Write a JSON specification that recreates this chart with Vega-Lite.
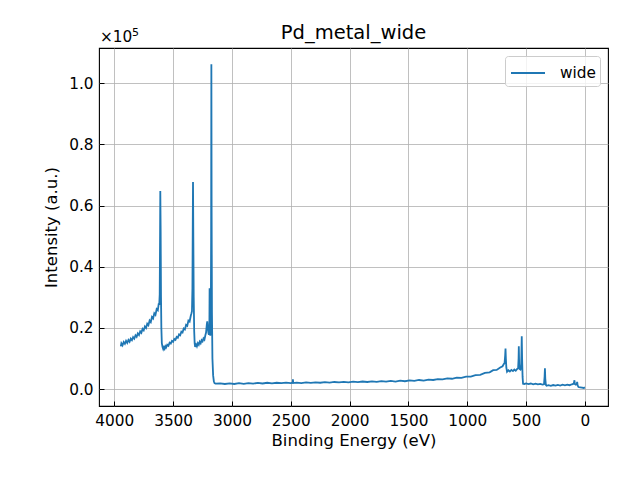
{
  "$schema": "https://vega.github.io/schema/vega-lite/v6.json",
  "width": 509,
  "height": 358,
  "autosize": "none",
  "padding": {"left": 99, "top": 48, "right": 32, "bottom": 74},
  "background": "white",
  "config": {
    "font": "DejaVu Sans",
    "view": {"stroke": "black", "strokeWidth": 1.1},
    "axis": {
      "domain": false,
      "grid": true,
      "gridColor": "#b0b0b0",
      "gridWidth": 0.8,
      "tickColor": "black",
      "tickSize": -5,
      "tickWidth": 1,
      "labelFont": "DejaVu Sans",
      "labelFontSize": 15.3,
      "labelColor": "black",
      "labelPadding": 11,
      "titleFont": "DejaVu Sans",
      "titleFontSize": 16.5,
      "titleFontWeight": "normal",
      "titleColor": "black"
    },
    "legend": {
      "orient": "top-right",
      "offset": 8,
      "strokeColor": "#cccccc",
      "cornerRadius": 3,
      "padding": 4,
      "fillColor": "rgba(255,255,255,0.8)",
      "symbolType": "M-1.417,0H1.417",
      "symbolSize": 576,
      "symbolOffset": 6,
      "symbolStrokeWidth": 1.8,
      "labelFont": "DejaVu Sans",
      "labelFontSize": 15.3,
      "labelColor": "black",
      "labelOffset": 19
    },
    "title": {"font": "DejaVu Sans", "fontSize": 19.5, "fontWeight": "normal", "color": "black", "offset": -16}
  },
  "title": "Pd_metal_wide",
  "data": {
    "values": [
      {"e": 3945, "i": 0.140}, {"e": 3940, "i": 0.150}, {"e": 3930, "i": 0.143}, {"e": 3920, "i": 0.154},
      {"e": 3910, "i": 0.148}, {"e": 3900, "i": 0.158}, {"e": 3890, "i": 0.151}, {"e": 3880, "i": 0.161},
      {"e": 3870, "i": 0.155}, {"e": 3860, "i": 0.165}, {"e": 3850, "i": 0.160}, {"e": 3840, "i": 0.170},
      {"e": 3830, "i": 0.165}, {"e": 3820, "i": 0.176}, {"e": 3810, "i": 0.171}, {"e": 3800, "i": 0.182},
      {"e": 3790, "i": 0.177}, {"e": 3780, "i": 0.189}, {"e": 3770, "i": 0.184}, {"e": 3760, "i": 0.197},
      {"e": 3750, "i": 0.192}, {"e": 3740, "i": 0.205}, {"e": 3730, "i": 0.200}, {"e": 3720, "i": 0.214},
      {"e": 3710, "i": 0.209}, {"e": 3700, "i": 0.224}, {"e": 3690, "i": 0.219}, {"e": 3680, "i": 0.236},
      {"e": 3670, "i": 0.231}, {"e": 3660, "i": 0.248}, {"e": 3650, "i": 0.243}, {"e": 3640, "i": 0.262},
      {"e": 3630, "i": 0.258}, {"e": 3622, "i": 0.280}, {"e": 3618, "i": 0.275}, {"e": 3614, "i": 0.310},
      {"e": 3611, "i": 0.500}, {"e": 3609, "i": 0.648}, {"e": 3606, "i": 0.520}, {"e": 3603, "i": 0.300},
      {"e": 3600, "i": 0.200}, {"e": 3596, "i": 0.150}, {"e": 3590, "i": 0.138}, {"e": 3584, "i": 0.131},
      {"e": 3578, "i": 0.137}, {"e": 3572, "i": 0.132}, {"e": 3566, "i": 0.140}, {"e": 3560, "i": 0.136},
      {"e": 3550, "i": 0.145}, {"e": 3540, "i": 0.142}, {"e": 3530, "i": 0.152}, {"e": 3520, "i": 0.149},
      {"e": 3510, "i": 0.158}, {"e": 3500, "i": 0.155}, {"e": 3490, "i": 0.164}, {"e": 3480, "i": 0.161},
      {"e": 3470, "i": 0.171}, {"e": 3460, "i": 0.168}, {"e": 3450, "i": 0.179}, {"e": 3440, "i": 0.176},
      {"e": 3430, "i": 0.188}, {"e": 3420, "i": 0.185}, {"e": 3410, "i": 0.198}, {"e": 3400, "i": 0.195},
      {"e": 3390, "i": 0.210}, {"e": 3380, "i": 0.207}, {"e": 3370, "i": 0.224}, {"e": 3360, "i": 0.221},
      {"e": 3350, "i": 0.240}, {"e": 3344, "i": 0.248}, {"e": 3340, "i": 0.255}, {"e": 3336, "i": 0.330},
      {"e": 3333, "i": 0.550}, {"e": 3331, "i": 0.677}, {"e": 3328, "i": 0.480}, {"e": 3325, "i": 0.300},
      {"e": 3321, "i": 0.190}, {"e": 3317, "i": 0.150}, {"e": 3313, "i": 0.138}, {"e": 3305, "i": 0.146},
      {"e": 3298, "i": 0.140}, {"e": 3290, "i": 0.150}, {"e": 3282, "i": 0.145}, {"e": 3274, "i": 0.155},
      {"e": 3266, "i": 0.150}, {"e": 3258, "i": 0.160}, {"e": 3250, "i": 0.156}, {"e": 3242, "i": 0.166},
      {"e": 3234, "i": 0.162}, {"e": 3226, "i": 0.176}, {"e": 3220, "i": 0.185}, {"e": 3214, "i": 0.210},
      {"e": 3210, "i": 0.222}, {"e": 3206, "i": 0.205}, {"e": 3200, "i": 0.183}, {"e": 3196, "i": 0.178},
      {"e": 3192, "i": 0.195}, {"e": 3190, "i": 0.330}, {"e": 3188, "i": 0.190}, {"e": 3184, "i": 0.175},
      {"e": 3180, "i": 0.200}, {"e": 3177, "i": 0.500}, {"e": 3175, "i": 1.062}, {"e": 3173, "i": 0.600},
      {"e": 3170, "i": 0.250}, {"e": 3166, "i": 0.100}, {"e": 3160, "i": 0.045}, {"e": 3154, "i": 0.026},
      {"e": 3148, "i": 0.020}, {"e": 3140, "i": 0.018}, {"e": 3100, "i": 0.019}, {"e": 3060, "i": 0.017},
      {"e": 3020, "i": 0.019}, {"e": 2980, "i": 0.017}, {"e": 2940, "i": 0.0195}, {"e": 2900, "i": 0.0175},
      {"e": 2860, "i": 0.020}, {"e": 2820, "i": 0.018}, {"e": 2780, "i": 0.0205}, {"e": 2740, "i": 0.0185},
      {"e": 2700, "i": 0.021}, {"e": 2660, "i": 0.019}, {"e": 2620, "i": 0.021}, {"e": 2580, "i": 0.0195},
      {"e": 2540, "i": 0.0215}, {"e": 2500, "i": 0.020}, {"e": 2484, "i": 0.021}, {"e": 2482, "i": 0.032},
      {"e": 2479, "i": 0.020}, {"e": 2450, "i": 0.0215}, {"e": 2410, "i": 0.020}, {"e": 2370, "i": 0.022},
      {"e": 2330, "i": 0.0205}, {"e": 2290, "i": 0.0225}, {"e": 2250, "i": 0.021}, {"e": 2210, "i": 0.023},
      {"e": 2170, "i": 0.0215}, {"e": 2130, "i": 0.0235}, {"e": 2090, "i": 0.022}, {"e": 2050, "i": 0.024},
      {"e": 2010, "i": 0.0225}, {"e": 1970, "i": 0.0245}, {"e": 1930, "i": 0.023}, {"e": 1890, "i": 0.025},
      {"e": 1850, "i": 0.0235}, {"e": 1810, "i": 0.0255}, {"e": 1770, "i": 0.024}, {"e": 1730, "i": 0.026},
      {"e": 1690, "i": 0.0245}, {"e": 1650, "i": 0.027}, {"e": 1610, "i": 0.025}, {"e": 1570, "i": 0.028},
      {"e": 1530, "i": 0.026}, {"e": 1490, "i": 0.029}, {"e": 1450, "i": 0.027}, {"e": 1410, "i": 0.030},
      {"e": 1370, "i": 0.028}, {"e": 1330, "i": 0.031}, {"e": 1290, "i": 0.030}, {"e": 1250, "i": 0.033},
      {"e": 1210, "i": 0.032}, {"e": 1170, "i": 0.035}, {"e": 1130, "i": 0.034}, {"e": 1090, "i": 0.038},
      {"e": 1050, "i": 0.037}, {"e": 1010, "i": 0.041}, {"e": 970, "i": 0.041}, {"e": 930, "i": 0.046},
      {"e": 890, "i": 0.047}, {"e": 850, "i": 0.053}, {"e": 810, "i": 0.055}, {"e": 780, "i": 0.062},
      {"e": 750, "i": 0.063}, {"e": 720, "i": 0.071}, {"e": 700, "i": 0.075}, {"e": 690, "i": 0.082},
      {"e": 683, "i": 0.085}, {"e": 678, "i": 0.110}, {"e": 675, "i": 0.133}, {"e": 672, "i": 0.100},
      {"e": 668, "i": 0.070}, {"e": 662, "i": 0.057}, {"e": 650, "i": 0.062}, {"e": 638, "i": 0.058},
      {"e": 625, "i": 0.063}, {"e": 612, "i": 0.059}, {"e": 600, "i": 0.064}, {"e": 588, "i": 0.060},
      {"e": 576, "i": 0.066}, {"e": 568, "i": 0.068}, {"e": 564, "i": 0.100}, {"e": 562, "i": 0.140},
      {"e": 559, "i": 0.080}, {"e": 555, "i": 0.066}, {"e": 548, "i": 0.064}, {"e": 543, "i": 0.070},
      {"e": 540, "i": 0.110}, {"e": 537, "i": 0.173}, {"e": 534, "i": 0.100}, {"e": 530, "i": 0.040},
      {"e": 526, "i": 0.018}, {"e": 515, "i": 0.017}, {"e": 500, "i": 0.019}, {"e": 480, "i": 0.0165},
      {"e": 460, "i": 0.0185}, {"e": 440, "i": 0.016}, {"e": 420, "i": 0.018}, {"e": 400, "i": 0.0155},
      {"e": 380, "i": 0.0175}, {"e": 360, "i": 0.015}, {"e": 348, "i": 0.016}, {"e": 343, "i": 0.040},
      {"e": 340, "i": 0.068}, {"e": 337, "i": 0.035}, {"e": 332, "i": 0.014}, {"e": 326, "i": 0.011},
      {"e": 310, "i": 0.013}, {"e": 290, "i": 0.011}, {"e": 270, "i": 0.0135}, {"e": 250, "i": 0.0115},
      {"e": 230, "i": 0.014}, {"e": 210, "i": 0.012}, {"e": 190, "i": 0.0145}, {"e": 170, "i": 0.0125},
      {"e": 150, "i": 0.015}, {"e": 130, "i": 0.013}, {"e": 110, "i": 0.016}, {"e": 95, "i": 0.018},
      {"e": 89, "i": 0.029}, {"e": 86, "i": 0.017}, {"e": 78, "i": 0.015}, {"e": 70, "i": 0.017},
      {"e": 66, "i": 0.024}, {"e": 62, "i": 0.012}, {"e": 55, "i": 0.007}, {"e": 40, "i": 0.006},
      {"e": 25, "i": 0.005}, {"e": 10, "i": 0.004}, {"e": 0, "i": 0.006}
    ]
  },
  "layer": [
    {
      "mark": {"type": "line", "strokeWidth": 1.8, "clip": true},
      "encoding": {
        "x": {
          "field": "e",
          "type": "quantitative",
          "sort": null,
          "title": "Binding Energy (eV)",
          "scale": {"domain": [4130, -196], "nice": false, "zero": false},
          "axis": {"values": [0, 500, 1000, 1500, 2000, 2500, 3000, 3500, 4000], "format": "d", "labelPadding": 12, "titlePadding": 4}
        },
        "y": {
          "field": "i",
          "type": "quantitative",
          "title": "Intensity (a.u.)",
          "scale": {"domain": [-0.055, 1.115], "nice": false, "zero": false},
          "axis": {"values": [0, 0.2, 0.4, 0.6, 0.8, 1.0], "format": ".1f", "titlePadding": 9}
        },
        "order": {"field": "e", "sort": "descending"},
        "color": {
          "datum": "wide",
          "scale": {"range": ["#1f77b4"]},
          "legend": {"title": null}
        }
      }
    },
    {
      "data": {"values": [{"label": "×10"}]},
      "mark": {"type": "text", "align": "left", "baseline": "bottom", "dx": 1, "dy": -3, "fontSize": 15.3, "font": "DejaVu Sans", "color": "black"},
      "encoding": {
        "x": {"datum": 4130},
        "y": {"datum": 1.115},
        "text": {"field": "label"}
      }
    },
    {
      "data": {"values": [{"label": "5"}]},
      "mark": {"type": "text", "align": "left", "baseline": "bottom", "dx": 33, "dy": -10, "fontSize": 11, "font": "DejaVu Sans", "color": "black"},
      "encoding": {
        "x": {"datum": 4130},
        "y": {"datum": 1.115},
        "text": {"field": "label"}
      }
    }
  ]
}
